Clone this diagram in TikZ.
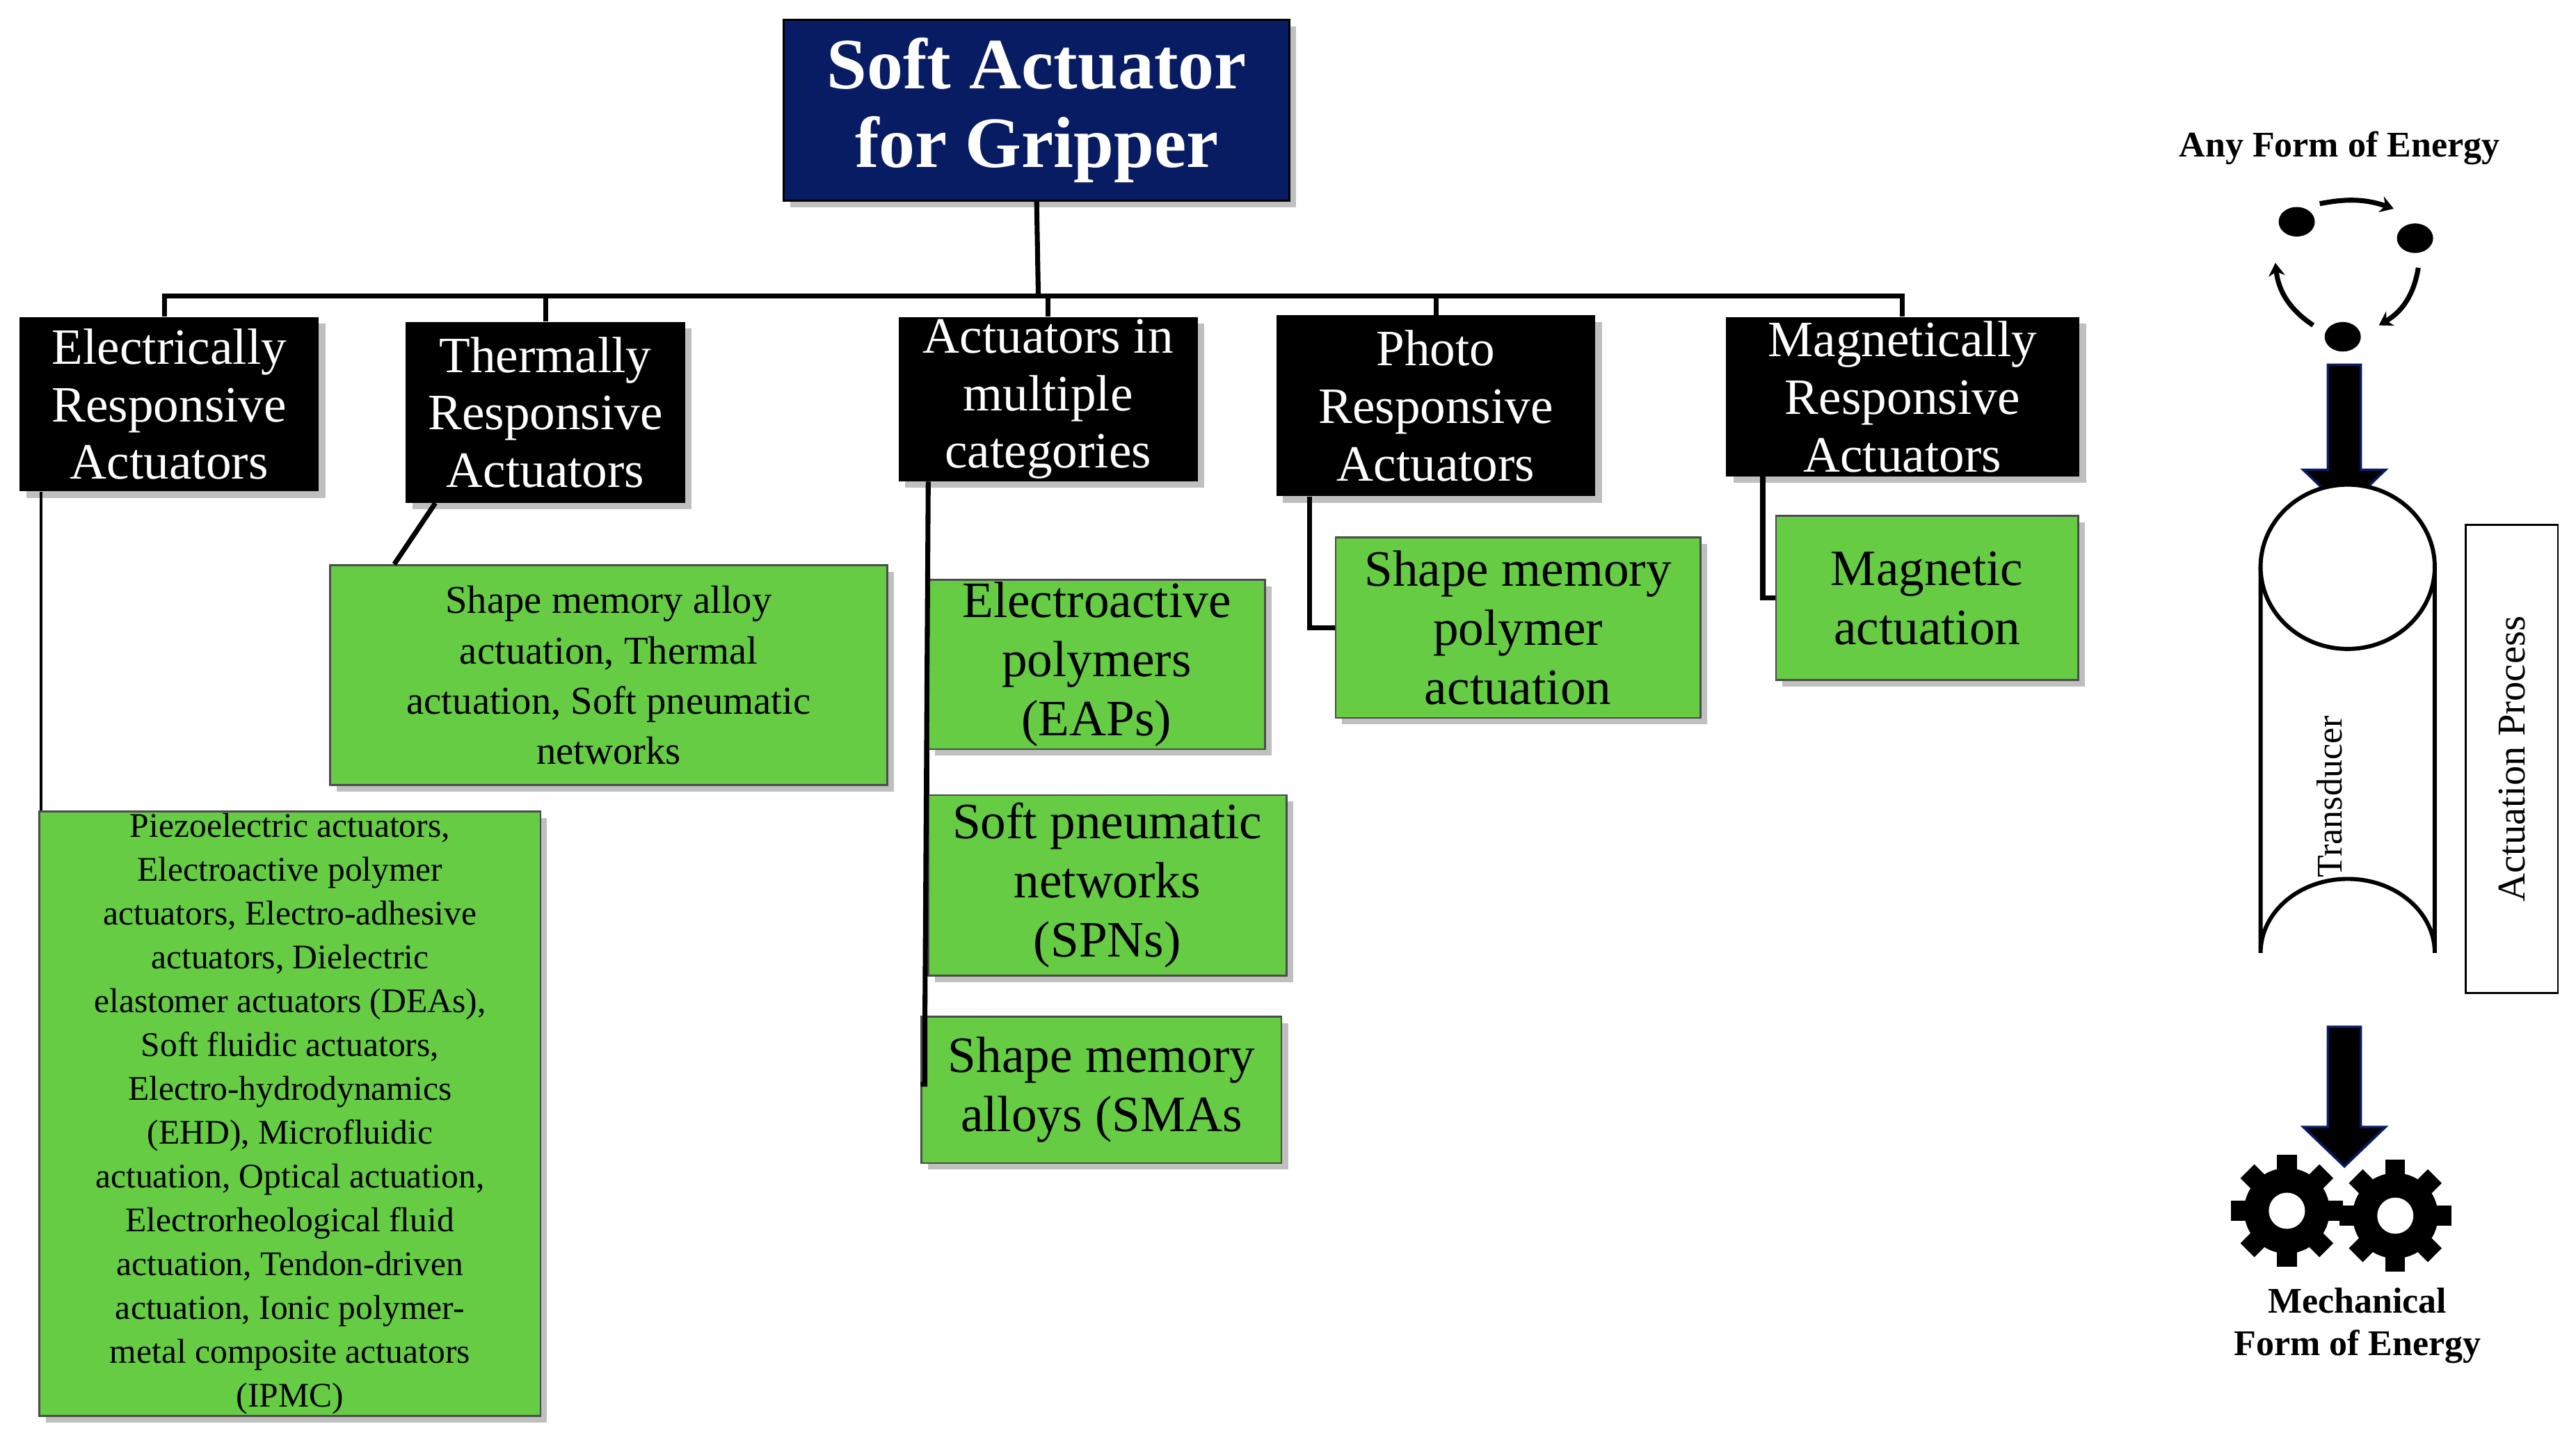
\documentclass[tikz,border=0pt]{standalone}
\usepackage{fontspec}
\setmainfont{Liberation Serif}
\usetikzlibrary{shapes.geometric,arrows.meta}
\definecolor{navy}{RGB}{8,28,100}
\definecolor{gr}{RGB}{102,204,68}
\begin{document}
\begin{tikzpicture}[x=1pt,y=-1pt,
  cat/.style={fill=black,text=white,font=\fontsize{31}{35}\selectfont,align=center,inner sep=0pt,drop shadow/.style={}},
  grn/.style={fill=gr,draw=black!70,line width=1.2pt,align=center,inner sep=0pt},
  ln/.style={line width=3pt}]
\useasboundingbox (0,0) rectangle (1568,881.6);
% shadows
\foreach \a/\b/\c/\d in {477/12/785/122,12/193/194/299,247/196/417/306,547/193/729/293,777/192/971/302,1051/193/1266/290,24/494/329/862,201/344/540/478,565/353/770/456,565/484/783/594,561/619/780/708,813/327/1035/437,1081/314/1265/414}
  \fill[black!25] (\a+4,\b+4) rectangle (\c+4,\d+4);
\node[fill=navy,draw=black,line width=1.2pt,text=white,font=\fontsize{44}{48}\selectfont\bfseries,align=center,minimum width=308pt,minimum height=110pt,inner sep=0pt] (root) at (631,67) {Soft Actuator\\for Gripper};
\node[cat,minimum width=182pt,minimum height=106pt] (E) at (103,246) {Electrically\\Responsive\\Actuators};
\node[cat,minimum width=170pt,minimum height=110pt] (T) at (332,251) {Thermally\\Responsive\\Actuators};
\node[cat,minimum width=182pt,minimum height=100pt] (A) at (638,243) {Actuators in\\multiple\\categories};
\node[cat,minimum width=194pt,minimum height=110pt] (P) at (874,247) {Photo\\Responsive\\Actuators};
\node[cat,minimum width=215pt,minimum height=97pt] (M) at (1158,241.5) {Magnetically\\Responsive\\Actuators};
\coordinate (bus) at (632,180);
\draw[ln] (root.south) -- (bus);
\draw[ln] (E.north -| 100,0) |- (bus) -| (M.north);
\draw[ln] (T.north) -- (T.north |- bus);
\draw[ln] (A.north) -- (A.north |- bus);
\draw[ln] (P.north) -- (P.north |- bus);
% green
\node[grn,minimum width=305pt,minimum height=368pt,font=\fontsize{21}{26.7}\selectfont] (Ge) at (176.5,678) {Piezoelectric actuators,\\Electroactive polymer\\actuators, Electro-adhesive\\actuators, Dielectric\\elastomer actuators (DEAs),\\Soft fluidic actuators,\\Electro-hydrodynamics\\(EHD), Microfluidic\\actuation, Optical actuation,\\Electrorheological fluid\\actuation, Tendon-driven\\actuation, Ionic polymer-\\metal composite actuators\\(IPMC)};
\node[grn,minimum width=339pt,minimum height=134pt,font=\fontsize{24}{30.5}\selectfont] (Gt) at (370.5,411) {Shape memory alloy\\actuation, Thermal\\actuation, Soft pneumatic\\networks};
\node[grn,minimum width=205pt,minimum height=103pt,font=\fontsize{31}{36}\selectfont] (A1) at (667.5,404.5) {Electroactive\\polymers\\(EAPs)};
\node[grn,minimum width=218pt,minimum height=110pt,font=\fontsize{31}{36}\selectfont] (A2) at (674,539) {Soft pneumatic\\networks\\(SPNs)};
\node[grn,minimum width=219pt,minimum height=89pt,font=\fontsize{31}{36}\selectfont] (A3) at (670.5,663.5) {Shape memory\\alloys (SMAs};
\node[grn,minimum width=222pt,minimum height=110pt,font=\fontsize{31}{36}\selectfont] (P1) at (924,382) {Shape memory\\polymer\\actuation};
\node[grn,minimum width=184pt,minimum height=100pt,font=\fontsize{31}{36}\selectfont] (M1) at (1173,364) {Magnetic\\actuation};
% connectors
\draw[line width=2pt] (E.south -| 25,0) -- (Ge.north -| 25,0);
\draw[line width=3pt] (T.south -| 265,0) -- (Gt.north -| 240,0);
\draw[line width=3pt] (A.south -| 565,0) -- (A3.north -| 563,0) -- (563,660) -- (A3.west |- 0,660);
\draw[line width=3pt] (A1.south west |- 0,456) -- (A2.north west);
\draw[line width=3pt] (P.south -| 797,0) |- (P1.west);
\draw[line width=3pt] (M.south -| 1073,0) |- (M1.west);
% right side
\node[font=\fontsize{22}{26}\selectfont\bfseries] (any) at (1424,90) {Any Form of Energy};
\fill (1398,135) ellipse (11 and 9) coordinate (d1);
\fill (1470,145) ellipse (11 and 9) coordinate (d2);
\fill (1426,205) ellipse (11 and 9) coordinate (d3);
\draw[line width=3pt,-{Stealth[length=8pt,width=10pt]}] (1412,124) to[bend left=15] (1457,127);
\draw[line width=3pt,-{Stealth[length=8pt,width=10pt]}] (1472,163) to[bend left=25] (1448,198);
\draw[line width=3pt,-{Stealth[length=8pt,width=10pt]}] (1408,198) to[bend left=25] (1385,160);
\coordinate (a1) at (1427,222);
\fill[black,draw=navy,line width=1.5pt] (1417,222) -- (1437,222) -- (1437,286) -- (1452,286) -- (1427,310) -- (1402,286) -- (1417,286) -- cycle;
\draw[line width=2.5pt,fill=white] (1376,345) -- (1376,580) arc[start angle=180,end angle=360,x radius=53,y radius=45] -- (1482,345);
\draw[line width=2.5pt,fill=white] (1429,345) ellipse (53 and 50);
\node[rotate=90,font=\fontsize{22}{26}\selectfont] (td) at (1418,485) {Transducer};
\node[draw,line width=1.2pt,minimum width=56pt,minimum height=285pt,inner sep=0pt] (ap) at (1529,462) {};
\node[rotate=90,font=\fontsize{24}{28}\selectfont] at (ap) {Actuation Process};
\fill[black,draw=navy,line width=1.5pt] (1417,625) -- (1437,625) -- (1437,686) -- (1452,686) -- (1427,710) -- (1402,686) -- (1417,686) -- cycle;
\foreach \cx/\cy in {1392/737,1458/740}{
  \fill (\cx,\cy) circle (26);
  \foreach \k in {0,45,...,315}
    \fill[rotate around={\k:(\cx,\cy)}] (\cx-6,\cy-34) rectangle (\cx+6,\cy-20);
  \fill[white] (\cx,\cy) circle (11);
}
\node[font=\fontsize{22}{26}\selectfont\bfseries,align=center] (mech) at (1435,807) {Mechanical\\Form of Energy};
\end{tikzpicture}
\end{document}
